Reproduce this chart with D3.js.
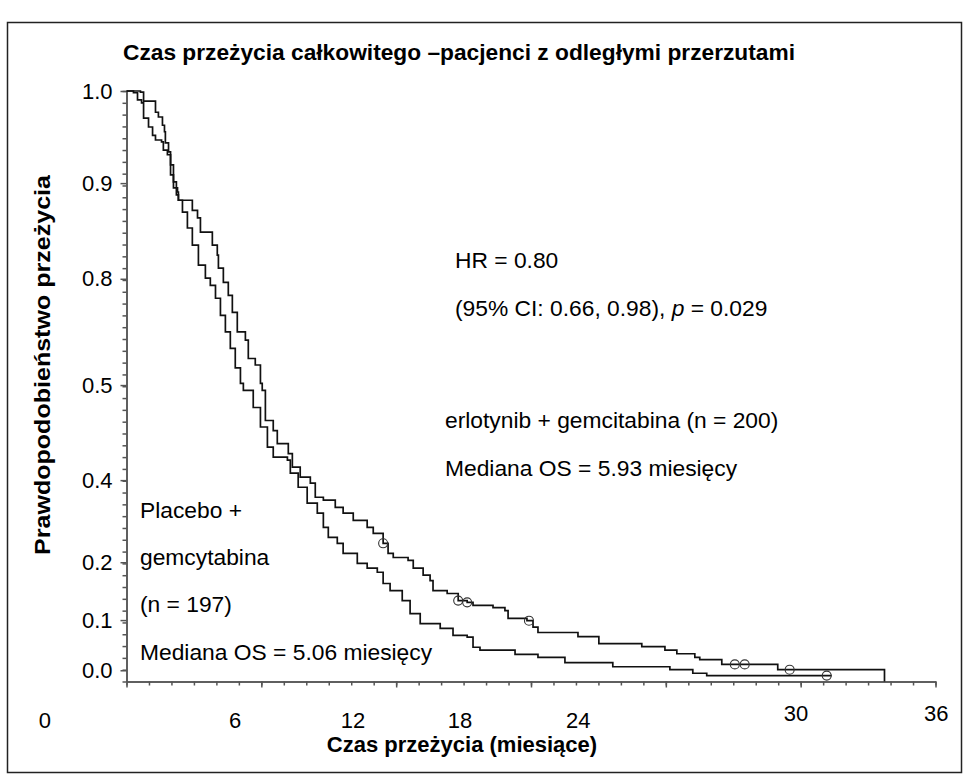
<!DOCTYPE html>
<html>
<head>
<meta charset="utf-8">
<script src="https://cdn.jsdelivr.net/npm/d3@7"></script>
<style>
  body { margin: 0; background: #fff; }
  svg text { font-family: "Liberation Sans", Arial, sans-serif; fill: #000; }
</style>
</head>
<body>
<div id="chart"></div>
<script>
// Kaplan-Meier curves (months, survival)
const placeboT = [0, 0.31, 0.49, 0.67, 0.76, 0.98, 1.16, 1.29, 1.56, 1.64, 1.82, 1.96, 2.09, 2.27, 2.31, 2.49, 2.71, 2.93, 3.2, 3.51, 3.73, 3.96, 4.18, 4.4, 4.62, 4.84, 5.07, 5.2, 5.64, 5.96, 6.27, 6.53, 7.16, 7.29, 7.64, 8.04, 8.49, 8.76, 8.98, 9.38, 9.64, 10.27, 10.71, 11.16, 11.42, 11.73, 12.27, 12.62, 13.07, 13.96, 14.53, 15.16, 15.42, 15.73, 17.29, 18.31, 19.51, 21.64, 24.18, 25.2, 25.82, 31.38];
const placeboS = [1, 0.997, 0.985, 0.98, 0.954, 0.939, 0.925, 0.917, 0.914, 0.9, 0.892, 0.858, 0.836, 0.829, 0.815, 0.795, 0.768, 0.739, 0.705, 0.683, 0.671, 0.649, 0.62, 0.592, 0.564, 0.531, 0.505, 0.493, 0.464, 0.431, 0.397, 0.38, 0.375, 0.353, 0.329, 0.302, 0.285, 0.261, 0.244, 0.234, 0.217, 0.2, 0.192, 0.185, 0.166, 0.154, 0.137, 0.115, 0.098, 0.09, 0.078, 0.075, 0.058, 0.053, 0.046, 0.041, 0.032, 0.025, 0.02, 0.014, 0.01, 0.01];
const erlotT = [0, 0.62, 0.76, 1.29, 1.42, 1.6, 1.69, 1.73, 1.87, 1.96, 2.09, 2.22, 2.31, 2.93, 3.16, 3.29, 3.82, 4.04, 4.09, 4.31, 4.53, 4.71, 4.93, 5.29, 5.42, 5.73, 5.96, 6.04, 6.18, 6.53, 6.71, 7.2, 7.38, 7.73, 8.18, 8.4, 8.76, 9.29, 9.64, 10.09, 10.71, 10.98, 11.42, 11.64, 11.87, 12.53, 12.76, 13.2, 13.51, 13.64, 14.27, 14.76, 15.16, 15.42, 16.31, 16.84, 16.98, 17.82, 18.09, 18.31, 20.09, 21.02, 22.93, 23.96, 24.49, 25.29, 25.51, 26.49, 28.98, 33.73];
const erlotS = [1, 0.998, 0.983, 0.964, 0.956, 0.942, 0.931, 0.912, 0.897, 0.875, 0.846, 0.824, 0.815, 0.798, 0.785, 0.761, 0.739, 0.722, 0.7, 0.676, 0.654, 0.625, 0.592, 0.578, 0.547, 0.536, 0.505, 0.493, 0.442, 0.425, 0.403, 0.386, 0.363, 0.346, 0.336, 0.312, 0.307, 0.295, 0.285, 0.273, 0.261, 0.251, 0.234, 0.217, 0.21, 0.205, 0.192, 0.18, 0.171, 0.154, 0.149, 0.137, 0.134, 0.129, 0.125, 0.12, 0.107, 0.103, 0.092, 0.083, 0.076, 0.064, 0.059, 0.053, 0.047, 0.041, 0.037, 0.029, 0.02, 0];

// censored observations (months)
const erlotCensor = [11.42, 14.76, 15.16, 17.91, 27.07, 27.51, 29.51];
const placeboCensor = [31.16];

// axis labels as printed (placed where they sit in the picture)
const yTickAt = [1.0, 0.844, 0.682, 0.502, 0.341, 0.202, 0.104, 0.019];
const yTickLabels = ["1.0", "0.9", "0.8", "0.5", "0.4", "0.2", "0.1", "0.0"];
const xTickLabels = ["0", "6", "12", "18", "24", "30", "36"];
const xTickLabelAt = [-3.63, 4.83, 10.08, 14.84, 20.1, 29.79, 36.03];

const width = 968;
const height = 780;

const svg = d3
  .select("#chart")
  .append("svg")
  .attr("width", width)
  .attr("height", height);

// frame
svg
  .append("rect")
  .attr("x", 7.5)
  .attr("y", 22.5)
  .attr("width", 954)
  .attr("height", 750)
  .attr("fill", "none")
  .attr("stroke", "#222")
  .attr("stroke-width", 1.5);

const x = d3.scaleLinear().domain([0, 36]).range([126.5, 935.5]);
const y = d3.scaleLinear().domain([0, 1]).range([681.5, 91]);

// y axis: minor ticks then labelled ticks
svg
  .append("g")
  .attr("transform", `translate(${x(0)},0)`)
  .call(
    d3.axisLeft(y).tickValues(d3.range(0, 1.001, 0.02)).tickSize(4).tickSizeOuter(0).tickFormat("")
  );
const yAxis = svg
  .append("g")
  .attr("transform", `translate(${x(0)},0)`)
  .call(
    d3
      .axisLeft(y)
      .tickValues(yTickAt)
      .tickSize(6)
      .tickSizeOuter(0)
      .tickPadding(8)
      .tickFormat((d, i) => yTickLabels[i])
  );
yAxis.selectAll("text").style("font-size", "22px").attr("fill", "#000");

// x axis
svg
  .append("g")
  .attr("transform", `translate(0,${y(0)})`)
  .call(d3.axisBottom(x).tickValues(d3.range(0, 37, 1)).tickSize(4).tickSizeOuter(0).tickFormat(""));
svg
  .append("g")
  .attr("transform", `translate(0,${y(0)})`)
  .call(d3.axisBottom(x).tickValues(d3.range(0, 37, 6)).tickSize(6).tickSizeOuter(0).tickFormat(""));

svg.selectAll(".domain, .tick line").attr("stroke", "#555").attr("stroke-width", 1.5);

svg
  .append("g")
  .selectAll("text")
  .data(xTickLabels)
  .enter()
  .append("text")
  .attr("x", (d, i) => x(xTickLabelAt[i]))
  .attr("y", (d, i) => (i >= 5 ? 721 : 728))
  .attr("text-anchor", "middle")
  .style("font-size", "22px")
  .text((d) => d);

// curves
const line = d3
  .line()
  .x((d) => x(d[0]))
  .y((d) => y(d[1]))
  .curve(d3.curveStepAfter);

const placebo = placeboT.map((t, i) => [t, placeboS[i]]);
const erlot = erlotT.map((t, i) => [t, erlotS[i]]);

[placebo, erlot].forEach((pts) => {
  svg
    .append("path")
    .attr("d", line(pts))
    .attr("fill", "none")
    .attr("stroke", "#111")
    .attr("stroke-width", 1.7);
});

// survival at time t on a step curve
const bisect = d3.bisector((d) => d[0]).right;
const survAt = (pts, t) => pts[Math.max(0, bisect(pts, t) - 1)][1];

const censors = erlotCensor
  .map((t) => [t, survAt(erlot, t)])
  .concat(placeboCensor.map((t) => [t, survAt(placebo, t)]));

svg
  .append("g")
  .selectAll("circle")
  .data(censors)
  .enter()
  .append("circle")
  .attr("cx", (d) => x(d[0]))
  .attr("cy", (d) => y(d[1]))
  .attr("r", 4.5)
  .attr("fill", "none")
  .attr("stroke", "#333")
  .attr("stroke-width", 1.1);

// titles
svg
  .append("text")
  .attr("x", 123)
  .attr("y", 60)
  .attr("textLength", 672)
  .attr("lengthAdjust", "spacingAndGlyphs")
  .style("font-size", "22.5px")
  .style("font-weight", "bold")
  .text("Czas przeżycia całkowitego –pacjenci z odległymi przerzutami");

svg
  .append("text")
  .attr("x", 462)
  .attr("y", 752)
  .attr("text-anchor", "middle")
  .style("font-size", "22px")
  .style("font-weight", "bold")
  .text("Czas przeżycia (miesiące)");

svg
  .append("text")
  .attr("transform", "translate(50,555) rotate(-90)")
  .attr("textLength", 380)
  .attr("lengthAdjust", "spacingAndGlyphs")
  .style("font-size", "22px")
  .style("font-weight", "bold")
  .text("Prawdopodobieństwo przeżycia");

// annotations
const notes = [
  { x: 455, y: 268, t: "HR = 0.80" },
  { x: 445, y: 428, t: "erlotynib + gemcitabina (n = 200)" },
  { x: 445, y: 476, t: "Mediana OS = 5.93 miesięcy" },
  { x: 140, y: 518, t: "Placebo +" },
  { x: 140, y: 565, t: "gemcytabina" },
  { x: 140, y: 612, t: "(n = 197)" },
  { x: 140, y: 660, t: "Mediana OS = 5.06 miesięcy" },
];
svg
  .append("g")
  .selectAll("text")
  .data(notes)
  .enter()
  .append("text")
  .attr("x", (d) => d.x)
  .attr("y", (d) => d.y)
  .style("font-size", "22.8px")
  .text((d) => d.t);

const ci = svg
  .append("text")
  .attr("x", 455)
  .attr("y", 316)
  .style("font-size", "22.8px");
ci.append("tspan").text("(95% CI: 0.66, 0.98), ");
ci.append("tspan").style("font-style", "italic").text("p");
ci.append("tspan").text(" = 0.029");
</script>
</body>
</html>
